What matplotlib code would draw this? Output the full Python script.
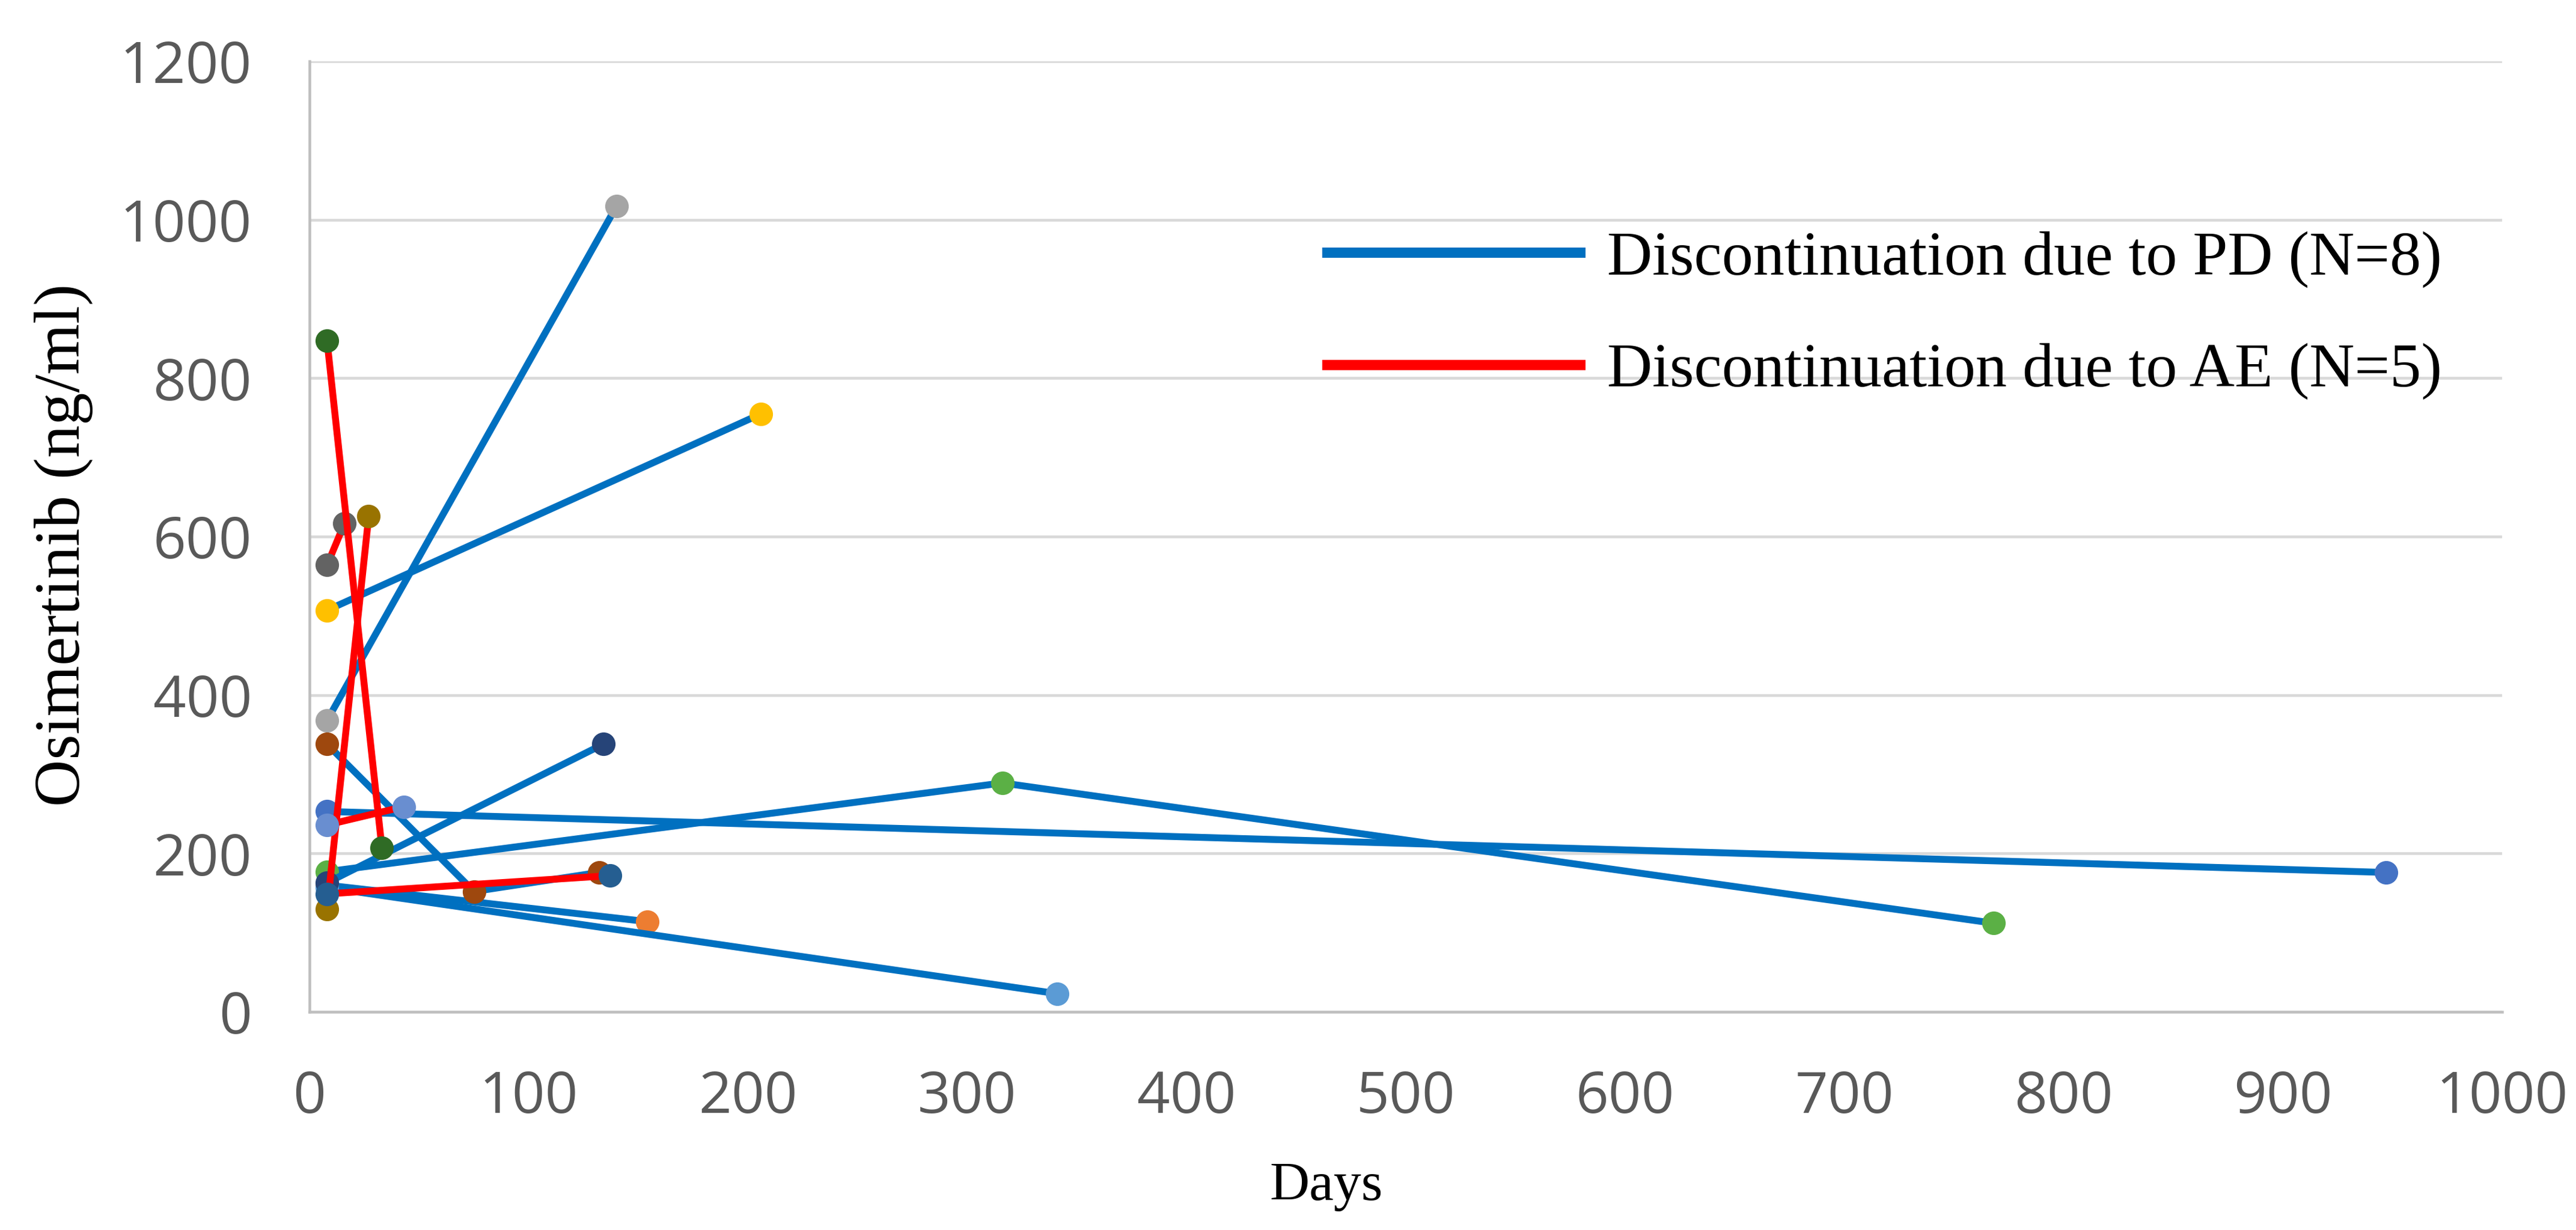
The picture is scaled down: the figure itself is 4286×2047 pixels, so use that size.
import matplotlib
matplotlib.use("Agg")
import matplotlib.pyplot as plt
from matplotlib.lines import Line2D

# days / osimertinib concentration per patient (in series order)
days = [
    [8, 947],          # PD
    [8, 154],          # PD
    [8, 140],          # PD
    [8, 206],          # PD
    [8, 341],          # PD
    [8, 316, 768],     # PD
    [8, 134],          # PD
    [8, 75, 132],      # PD
    [8, 16],           # AE
    [8, 27],           # AE
    [8, 137],          # AE
    [8, 33],           # AE
    [8, 43],           # AE
]
conc = [
    [253, 176],
    [160, 114],
    [368, 1017],
    [507, 755],
    [157, 23],
    [177, 289, 112],
    [163, 338],
    [338, 152, 176],
    [564, 617],
    [130, 626],
    [149, 172],
    [847, 207],
    [236, 259],
]
reason = ["PD"] * 8 + ["AE"] * 5
marker_colors = ["#4472C4", "#ED7D31", "#A5A5A5", "#FFC000", "#5B9BD5", "#5BB045",
                 "#264478", "#9E480E", "#636363", "#997300", "#255E91", "#2F6B25",
                 "#698ED0"]
line_colors = {"PD": "#0070C0", "AE": "#FF0000"}
legend_labels = ["Discontinuation due to PD (N=8)", "Discontinuation due to AE (N=5)"]

fig = plt.figure(figsize=(4286 / 300, 2047 / 300), dpi=300)
ax = fig.add_axes([515 / 4286, 1 - 1684 / 2047, 3648 / 4286, 1582 / 2047])

for d, c, r, mc in zip(days, conc, reason, marker_colors):
    ax.plot(d, c, color=line_colors[r], lw=2.75, marker="o", ms=8.4,
            mfc=mc, mec=mc, clip_on=False)

ax.set_xlim(0, 1000)
ax.set_ylim(0, 1200)
ax.set_xticks(range(0, 1001, 100))
ax.set_yticks(range(0, 1201, 200))
ax.grid(axis="y", color="#D9D9D9", lw=1.1)
ax.set_axisbelow(True)
for s in ["top", "right"]:
    ax.spines[s].set_visible(False)
for s in ["left", "bottom"]:
    ax.spines[s].set_color("#BFBFBF")
    ax.spines[s].set_linewidth(1.1)
ax.tick_params(length=0, pad=23, labelsize=23, labelcolor="#595959")
for lab in ax.get_xticklabels() + ax.get_yticklabels():
    lab.set_fontfamily("Open Sans")

ax.set_xlabel("Days", fontfamily="Liberation Serif", fontsize=22, color="black")
ax.xaxis.label.set_va("center")
ax.xaxis.set_label_coords(0.4636, -0.184)
ax.set_ylabel("Osimertinib (ng/ml)", fontfamily="Liberation Serif", fontsize=26, color="black")
ax.yaxis.label.set_va("center")
ax.yaxis.set_label_coords(-0.112, 0.491)

handles = [Line2D([], [], color=line_colors["PD"], lw=4.1),
           Line2D([], [], color=line_colors["AE"], lw=4.1)]
ax.legend(handles, legend_labels, loc="center left", bbox_to_anchor=(0.4641, 0.733),
          frameon=False, borderpad=0, borderaxespad=0, handlelength=4.04,
          handletextpad=0.43, labelspacing=0.88,
          prop={"family": "Liberation Serif", "size": 25})

fig.savefig("out.png", dpi=300)
